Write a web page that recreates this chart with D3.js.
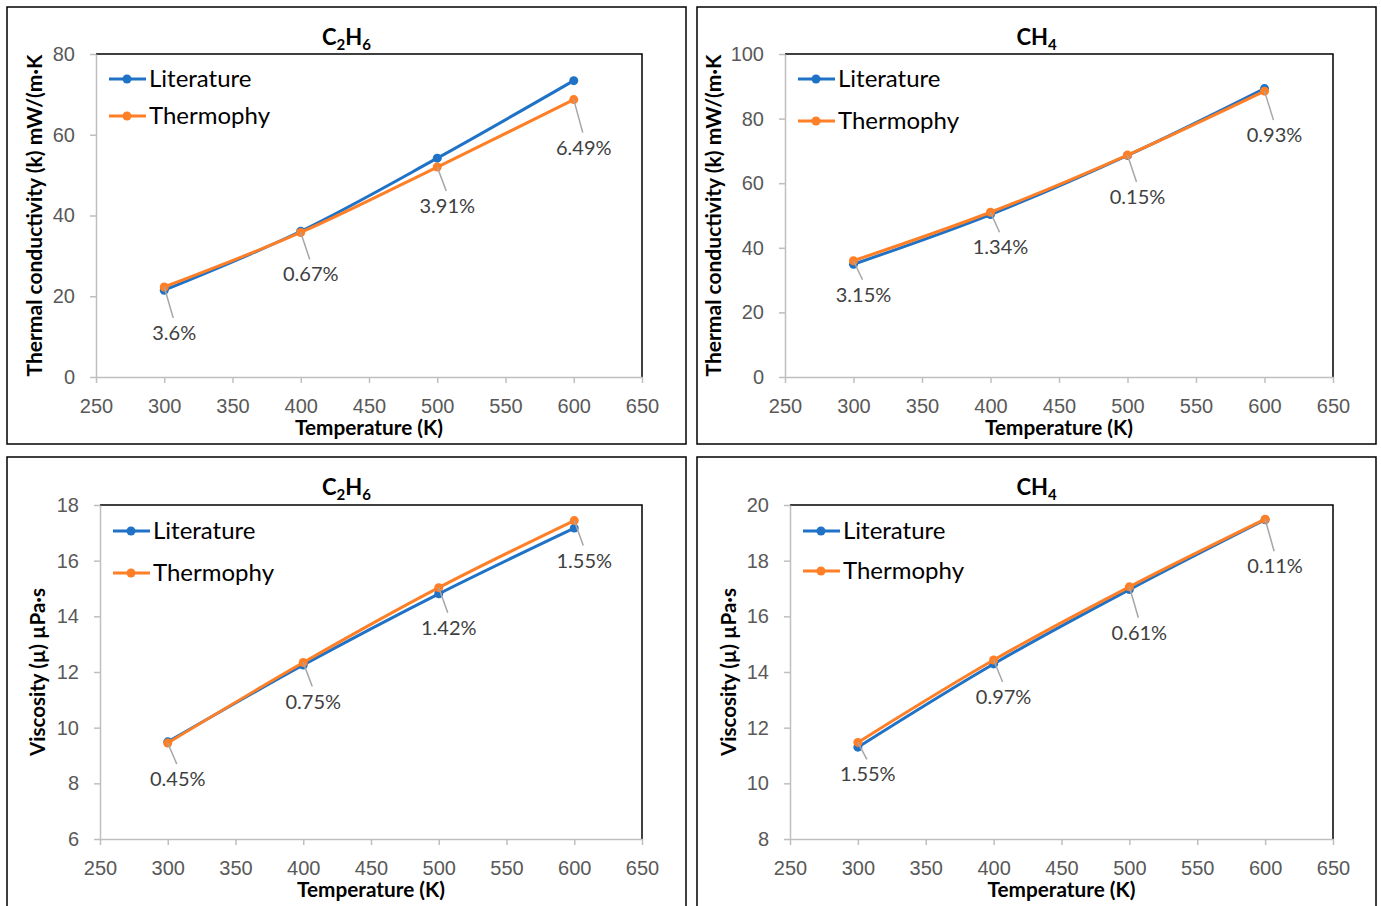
<!DOCTYPE html>
<html>
<head>
<meta charset="utf-8">
<script src="https://cdn.jsdelivr.net/npm/d3@7"></script>
<style>
  body { margin: 0; background: #fff; }
  svg { display: block; font-family: Lato, "Open Sans", sans-serif; }
  .tick text { fill: #595959; font-size: 20px; }
  .tick line, .domain { stroke: #bfbfbf; stroke-width: 1.5px; }
</style>
</head>
<body>
<div id="chart"></div>
<script>
// temperatures (K)
var temps = [300, 400, 500, 600];
var xTicks = [250, 300, 350, 400, 450, 500, 550, 600, 650];

// thermal conductivity, C2H6
var kC2H6Lit = [21.5, 36.1, 54.2, 73.4];
var kC2H6Thermo = [22.3, 35.8, 52.0, 68.7];
var kC2H6Err = ["3.6%", "0.67%", "3.91%", "6.49%"];
var kC2H6Ticks = [0, 20, 40, 60, 80];

// thermal conductivity, CH4
var kCH4Lit = [34.9, 50.3, 68.6, 89.3];
var kCH4Thermo = [36.0, 51.0, 68.7, 88.5];
var kCH4Err = ["3.15%", "1.34%", "0.15%", "0.93%"];
var kCH4Ticks = [0, 20, 40, 60, 80, 100];

// viscosity, C2H6
var muC2H6Lit = [9.49, 12.25, 14.81, 17.17];
var muC2H6Thermo = [9.45, 12.34, 15.03, 17.44];
var muC2H6Err = ["0.45%", "0.75%", "1.42%", "1.55%"];
var muC2H6Ticks = [6, 8, 10, 12, 14, 16, 18];

// viscosity, CH4
var muCH4Lit = [11.30, 14.29, 16.96, 19.47];
var muCH4Thermo = [11.47, 14.43, 17.06, 19.49];
var muCH4Err = ["1.55%", "0.97%", "0.61%", "0.11%"];
var muCH4Ticks = [8, 10, 12, 14, 16, 18, 20];

var seriesNames = ["Literature", "Thermophy"];
var colors = ["#1f72c6", "#ff7f27"];

var svg = d3.select("#chart").append("svg")
  .attr("width", 1381)
  .attr("height", 906);

// layout for each panel (box + plot area), label drop below the points
var panels = [
  { box: [7, 7, 686, 444], plot: [96, 54, 642, 377], title: ["C", "2", "H", "6"],
    yTitle: "Thermal conductivity (k) mW/(m·K", yTitleOff: 61, yTitleLen: 322,
    lit: kC2H6Lit, thermo: kC2H6Thermo, err: kC2H6Err, yTicks: kC2H6Ticks,
    labelDy: [46, 42, 39, 48], legendDy: [25, 62] },
  { box: [697, 7, 1376, 444], plot: [785, 54, 1333, 377], title: ["CH", "4"],
    yTitle: "Thermal conductivity (k) mW/(m·K", yTitleOff: 71, yTitleLen: 322,
    lit: kCH4Lit, thermo: kCH4Thermo, err: kCH4Err, yTicks: kCH4Ticks,
    labelDy: [34, 35, 42, 44], legendDy: [25, 67] },
  { box: [7, 457, 686, 920], plot: [100, 505, 642, 839], title: ["C", "2", "H", "6"],
    yTitle: "Viscosity (µ) µPa·s", yTitleOff: 62, yTitleLen: 168,
    lit: muC2H6Lit, thermo: muC2H6Thermo, err: muC2H6Err, yTicks: muC2H6Ticks,
    labelDy: [36, 39, 40, 40], legendDy: [26, 68] },
  { box: [697, 457, 1376, 920], plot: [790, 505, 1333, 839], title: ["CH", "4"],
    yTitle: "Viscosity (µ) µPa·s", yTitleOff: 61, yTitleLen: 168,
    lit: muCH4Lit, thermo: muCH4Thermo, err: muCH4Err, yTicks: muCH4Ticks,
    labelDy: [32, 37, 46, 47], legendDy: [26, 66] }
];

panels.forEach(function(p) {
  var g = svg.append("g");
  var x0 = p.plot[0], y0 = p.plot[1], x1 = p.plot[2], y1 = p.plot[3];

  // outer panel frame
  g.append("rect")
    .attr("x", p.box[0]).attr("y", p.box[1])
    .attr("width", p.box[2] - p.box[0]).attr("height", p.box[3] - p.box[1])
    .attr("fill", "none").attr("stroke", "#000").attr("stroke-width", 1.5);

  var xScale = d3.scaleLinear().domain([250, 650]).range([x0, x1]);
  var yScale = d3.scaleLinear()
    .domain([d3.min(p.yTicks), d3.max(p.yTicks)])
    .range([y1, y0]);

  // plot area border (top and right black)
  g.append("path")
    .attr("d", `M${x0},${y0}H${x1}V${y1}`)
    .attr("fill", "none").attr("stroke", "#000").attr("stroke-width", 1.5);

  g.append("g")
    .attr("transform", `translate(0,${y1})`)
    .call(d3.axisBottom(xScale).tickValues(xTicks).tickSize(6).tickPadding(16).tickSizeOuter(0));

  g.append("g")
    .attr("transform", `translate(${x0},0)`)
    .call(d3.axisLeft(yScale).tickValues(p.yTicks).tickSize(6).tickPadding(15).tickSizeOuter(0));

  // title with subscripts
  var title = g.append("text")
    .attr("x", (p.box[0] + p.box[2]) / 2)
    .attr("y", p.box[1] + 38)
    .attr("text-anchor", "middle")
    .attr("font-weight", "bold")
    .attr("font-size", "22px");
  p.title.forEach(function(s, i) {
    var sub = i % 2 === 1;
    title.append("tspan")
      .attr("font-size", sub ? "15px" : "22px")
      .attr("dy", sub ? 5 : (i > 0 ? -5 : 0))
      .text(s);
  });

  // axis titles
  g.append("text")
    .attr("x", (x0 + x1) / 2)
    .attr("y", y1 + 58)
    .attr("text-anchor", "middle")
    .attr("font-weight", "bold")
    .attr("font-size", "20px")
    .attr("textLength", 148)
    .attr("lengthAdjust", "spacingAndGlyphs")
    .text("Temperature (K)");

  g.append("text")
    .attr("transform", `translate(${x0 - p.yTitleOff},${(y0 + y1) / 2}) rotate(-90)`)
    .attr("text-anchor", "middle")
    .attr("dy", "0.35em")
    .attr("font-weight", "bold")
    .attr("font-size", "20px")
    .attr("textLength", p.yTitleLen)
    .attr("lengthAdjust", "spacingAndGlyphs")
    .text(p.yTitle);

  var line = d3.line()
    .x(d => xScale(d[0]))
    .y(d => yScale(d[1]))
    .curve(d3.curveCatmullRom);

  var series = [p.lit, p.thermo];
  series.forEach(function(vals, si) {
    var pts = temps.map((t, i) => [t, vals[i]]);
    g.append("path")
      .datum(pts)
      .attr("d", line)
      .attr("fill", "none")
      .attr("stroke", colors[si])
      .attr("stroke-width", 3);
    g.selectAll(null)
      .data(pts)
      .enter()
      .append("circle")
      .attr("cx", d => xScale(d[0]))
      .attr("cy", d => yScale(d[1]))
      .attr("r", 4.5)
      .attr("fill", colors[si]);
  });

  // error labels with leader lines
  temps.forEach(function(t, i) {
    var px = xScale(t), py = yScale(p.thermo[i]);
    var lx = px + 10, ly = py + p.labelDy[i];
    g.append("line")
      .attr("x1", px).attr("y1", py)
      .attr("x2", lx - 1).attr("y2", ly - 15)
      .attr("stroke", "#a6a6a6").attr("stroke-width", 1.5);
    g.append("text")
      .attr("x", lx).attr("y", ly)
      .attr("dy", "0.35em")
      .attr("text-anchor", "middle")
      .attr("fill", "#404040")
      .attr("font-size", "20px")
      .text(p.err[i]);
  });

  // legend
  seriesNames.forEach(function(name, si) {
    var ly = y0 + p.legendDy[si];
    g.append("line")
      .attr("x1", x0 + 13).attr("x2", x0 + 50)
      .attr("y1", ly).attr("y2", ly)
      .attr("stroke", colors[si]).attr("stroke-width", 3);
    g.append("circle")
      .attr("cx", x0 + 31).attr("cy", ly).attr("r", 4.5)
      .attr("fill", colors[si]);
    g.append("text")
      .attr("x", x0 + 53).attr("y", ly)
      .attr("dy", "0.35em")
      .attr("font-size", "24px")
      .attr("fill", "#000")
      .text(name);
  });
});
</script>
</body>
</html>
